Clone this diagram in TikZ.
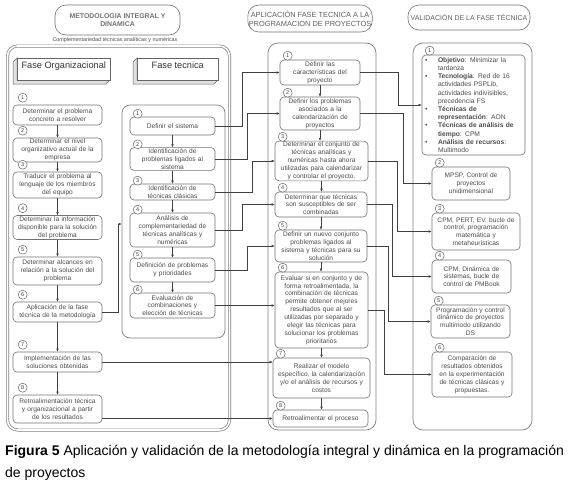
\documentclass[tikz,border=0pt]{standalone}
\usepackage{fontspec}
\setmainfont{Liberation Sans}
\usetikzlibrary{arrows.meta,calc}
\tikzset{
  box/.style={draw=black!55, line width=0.6pt, rounded corners=4pt, align=center, inner sep=1pt,
    font=\fontsize{6.6}{7.9}\selectfont, text=black!70},
  cont/.style={draw=black!50, line width=0.7pt, rounded corners=10pt, inner sep=0pt},
  hdr/.style={draw=black!55, line width=0.6pt, rounded corners=11pt, align=center, inner sep=1pt,
    font=\fontsize{7.4}{9}\selectfont, text=black!62},
  numc/.style={circle, draw=black!60, line width=0.5pt, inner sep=0pt, minimum size=9pt,
    font=\fontsize{5.5}{6}\selectfont, text=black!75, fill=white},
  arr/.style={draw=black!75, line width=0.5pt, -{Latex[length=3pt,width=2.6pt]}},
  face/.style={draw=black!60, line width=0.5pt, fill=white},
  side/.style={draw=black!60, line width=0.5pt, fill=black!12},
  fasetxt/.style={font=\fontsize{9.2}{10}\selectfont, text=black!80, inner sep=0pt}
}
\begin{document}
\begin{tikzpicture}[x=1pt,y=-1pt]
\useasboundingbox (0,0) rectangle (572,490);
\fill[white] (0,0) rectangle (572,490);

% ---------- headers ----------
\node[hdr, minimum width=125pt, minimum height=30pt, font=\fontsize{6.9}{8.6}\selectfont\bfseries, text=black!55] (H1) at (117.5,20) {METODOLOGIA INTEGRAL Y\\DINAMICA};
\node[hdr, minimum width=124pt, minimum height=27pt] (H2) at (310,18.5) {APLICACIÓN FASE TECNICA A LA\\PROGRAMACION DE PROYECTOS};
\node[hdr, minimum width=122pt, minimum height=25pt, font=\fontsize{7}{8}\selectfont] (H3) at (469,17.5) {VALIDACIÓN DE LA FASE TÉCNICA};
\node[font=\fontsize{5.4}{6}\selectfont, text=black!70, inner sep=0pt] (sub) at (115,40) {Complementariedad técnicas analíticas y numéricas};

% ---------- containers ----------
\node[cont, double=white, double distance=1.6pt, minimum width=222pt, minimum height=384pt] (BigL) at (118.5,238) {};
\node[cont, rounded corners=8pt, minimum width=103pt, minimum height=233pt] (FTc) at (173.5,221.5) {};
\node[cont, minimum width=108pt, minimum height=387pt] (Mc) at (322,236.5) {};
\node[cont, minimum width=119pt, minimum height=387pt] (Rc) at (472.5,236.5) {};

% ---------- 3D phase boxes ----------
\fill[side] (17,58) -- (13,62) -- (13,84) -- (106,84) -- (110,80) -- (17,80) -- cycle;
\node[face, minimum width=93pt, minimum height=22pt, anchor=north west] (FO) at (17,58) {};
\node[fasetxt, anchor=north] (FOt) at ($(FO.north)+(0,3.5)$) {Fase Organizacional};
\fill[side] (137,58) -- (133,62) -- (133,84) -- (214,84) -- (218,80) -- (137,80) -- cycle;
\node[face, minimum width=81pt, minimum height=22pt, anchor=north west] (FTh) at (137,58) {};
\node[fasetxt, anchor=north] (FTt) at ($(FTh.north)+(0,3.5)$) {Fase tecnica};

% ---------- left column ----------
\node[box, text width=87pt, minimum height=20pt] (L1) at (57.5,115) {Determinar el problema\\concreto a resolver};
\node[box, text width=87pt, minimum height=24pt] (L2) at (57.5,150) {Determinar el nivel\\organizativo actual de la\\empresa};
\node[box, text width=87pt, minimum height=26pt] (L3) at (57.5,185) {Traducir el problema al\\lenguaje de los miembros\\del equipo};
\node[box, text width=87pt, minimum height=21pt] (L4) at (57.5,227.5) {Determinar la información\\disponible para la solución\\del problema};
\node[box, text width=87pt, minimum height=28pt] (L5) at (57.5,271) {Determinar alcances en\\relación a la solución del\\problema};
\node[box, text width=87pt, minimum height=20pt] (L6) at (57.5,312) {Aplicación de la fase\\técnica de la metodología};
\node[box, text width=87pt, minimum height=20pt] (L7) at (57.5,362) {Implementación de las\\soluciones obtenidas};
\node[box, text width=87pt, minimum height=28pt] (L8) at (57.5,409) {Retroalimentación técnica\\y organizacional  a partir\\de los resultados};
\foreach \i in {1,...,8} {
  \node[numc] (cL\i) at ($(L\i.north west)+(10,-7)$) {\i};
}
\foreach \a/\b in {1/2,2/3,3/4,4/5,5/6,6/7,7/8} {
  \draw[arr] (L\a.south) -- (L\b.north);
}

% ---------- fase tecnica column ----------
\node[box, text width=83pt, minimum height=18pt] (F1) at (172.5,126) {Definir el sistema};
\node[box, text width=83pt, minimum height=22pt] (F2) at (172.5,159) {Identificación de\\problemas ligados al\\sistema};
\node[box, text width=83pt, minimum height=16pt] (F3) at (172.5,192) {Identificación de\\técnicas clásicas};
\node[box, text width=83pt, minimum height=34pt] (F4) at (172.5,230) {Análisis de\\complementariedad de\\técnicas analíticas y\\numéricas};
\node[box, text width=83pt, minimum height=24pt] (F5) at (172.5,270) {Definición de problemas\\y prioridades};
\node[box, text width=83pt, minimum height=25pt] (F6) at (172.5,305.5) {Evaluación de\\combinaciones y\\elección de técnicas};
\foreach \i in {1,...,6} {
  \node[numc] (cF\i) at ($(F\i.north west)+(8,-3)$) {\i};
}
\foreach \a/\b in {1/2,2/3,3/4,4/5,5/6} {
  \draw[arr] (F\a.south) -- (F\b.north);
}

% ---------- middle column ----------
\node[box, text width=78pt, minimum height=25pt] (M1) at (320,72.5) {Definir las\\características del\\proyecto};
\node[box, text width=78pt, minimum height=33pt] (M2) at (320,113.5) {Definir los problemas\\asociados a la\\calendarización de\\proyectos};
\node[box, text width=91pt, minimum height=38pt] (M3) at (321.5,161) {Determinar el conjunto de\\técnicas analíticas y\\numéricas hasta ahora\\utilizadas para calendarizar\\y controlar el proyecto.};
\node[box, text width=90pt, minimum height=25pt] (M4) at (321,204.5) {Determinar que técnicas\\son susceptibles de ser\\combinadas};
\node[box, text width=90pt, minimum height=32pt] (M5) at (321,246) {Definir un nuevo conjunto\\problemas ligados al\\sistema y técnicas para su\\solución};
\node[box, text width=91pt, minimum height=76pt] (M6) at (321.5,310) {Evaluar si en conjunto y de\\forma retroalimentada, la\\combinación de técnicas\\permite obtener mejores\\resultados que al ser\\utilizadas por separado y\\elegir las técnicas para\\solucionar los problemas\\prioritarios};
\node[box, text width=95pt, minimum height=40pt] (M7) at (321.5,378) {Realizar el modelo\\específico, la calendarización\\y/o el análisis de recursos y\\costos};
\node[box, text width=93pt, minimum height=17pt] (M8) at (320.5,418.5) {Retroalimentar el proceso};
\foreach \i in {1,...,8} {
  \node[numc] (cM\i) at ($(M\i.north west)+(8,-4)$) {\i};
}
\foreach \a/\b in {1/2,2/3,3/4,4/5,5/6,6/7,7/8} {
  \draw[arr] (M\a.south) -- (M\a.south |- M\b.north);
}

% ---------- right column ----------
\node[box, text width=101pt, minimum height=100pt, align=left, font=\fontsize{6.7}{8.2}\selectfont] (R1) at (473.5,105) {%
\hspace*{2pt}\makebox[13pt][l]{•}\textbf{Objetivo}: Minimizar la\\
\hspace*{15pt}tardanza\\
\hspace*{2pt}\makebox[13pt][l]{•}\textbf{Tecnología}: Red de 16\\
\hspace*{15pt}actividades PSPLib,\\
\hspace*{15pt}actividades indivisibles,\\
\hspace*{15pt}precedencia FS\\
\hspace*{2pt}\makebox[13pt][l]{•}\textbf{Técnicas de}\\
\hspace*{15pt}\textbf{representación}: AON\\
\hspace*{2pt}\makebox[13pt][l]{•}\textbf{Técnicas de análisis de}\\
\hspace*{15pt}\textbf{tiempo}: CPM\\
\hspace*{2pt}\makebox[13pt][l]{•}\textbf{Análisis de recursos}:\\
\hspace*{15pt}Multimodo};
\node[box, text width=76pt, minimum height=33pt] (R2) at (471,183.5) {MPSP, Control de\\proyectos\\unidimensional};
\node[box, text width=86pt, minimum height=37pt] (R3) at (476,231.5) {CPM, PERT, EV, bucle de\\control, programación\\matemática y\\metaheurísticas};
\node[box, text width=77pt, minimum height=33pt] (R4) at (471.5,276.5) {CPM, Dinámica de\\sistemas, bucle de\\control de PMBook};
\node[box, text width=77pt, minimum height=33pt] (R5) at (470.5,321.5) {Programación y control\\dinámico de proyectos\\multimodo utilizando\\DS};
\node[box, text width=78pt, minimum height=45pt] (R6) at (472,374.5) {Comparación de\\resultados obtenidos\\en la experimentación\\de técnicas clásicas y\\propuestas.};
\foreach \i in {1,...,6} {
  \node[numc] (cR\i) at ($(R\i.north west)+(8,-4)$) {\i};
}

% ---------- connectors: left -> fase tecnica / middle ----------
\draw[arr] (L6.east) -- ++(16,0) |- ($(FTc.west)+(0,2.5)$);
\draw[arr] (L7.east) -- (L7.east -| M7.west);
\draw[arr] (L8.east |- M8.west) -- (M8.west);

% ---------- connectors: fase tecnica -> middle ----------
\draw[arr] (F1.east) -- ++(27,0) |- (M1.west);
\draw[arr] (F2.east) -- ++(32,0) |- (M2.west);
\draw[arr] (F3.east) -- ++(37,0) |- (M3.west);
\draw[arr] (F4.east) -- ++(27,0) |- (M4.west);
\draw[arr] (F5.east) -- ++(32,0) |- (M5.west);
\draw[arr] (F6.east) -- (F6.east -| M6.west);

% ---------- connectors: middle -> right ----------
\draw[arr] (M1.east) -- ++(38,0) |- (R1.west);
\draw[arr] (M2.east) -- ++(43,0) |- (R2.west);
\draw[arr] (M3.east) -- ++(29,0) |- (R3.west);
\draw[arr] (M4.east) -- ++(25,0) |- (R4.west);
\draw[arr] (M5.east) -- ++(21,0) |- (R5.west);
\draw[arr] (M6.east) -- ++(16,0) |- (R6.west);

% ---------- caption ----------
\node[anchor=west, inner sep=0pt, font=\fontsize{14}{16}\selectfont] (cap1) at (5,452) {\textbf{Figura 5} Aplicación y validación de la metodología integral y dinámica en la programación};
\node[anchor=west, inner sep=0pt, font=\fontsize{14}{16}\selectfont] (cap2) at (5,474) {de proyectos};
\end{tikzpicture}
\end{document}
